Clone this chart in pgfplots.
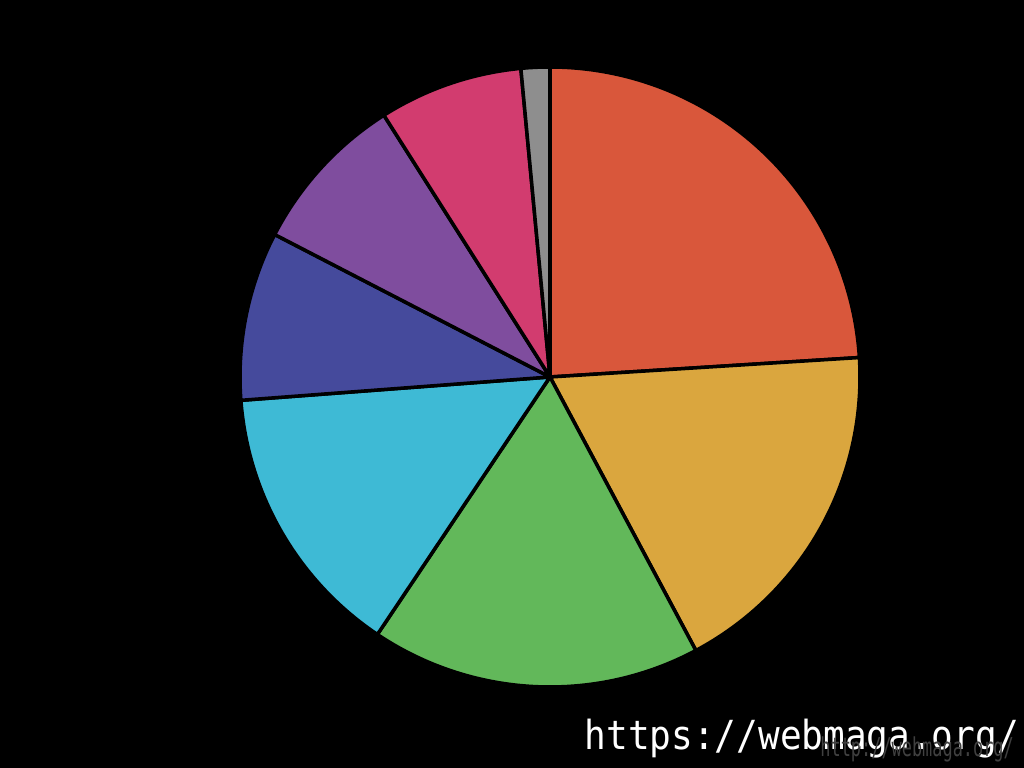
\documentclass[border=0pt]{standalone}
\usepackage{pgfplots}
\pgfplotsset{compat=1.18}
\usepackage{fontspec}
\newfontfamily\wmfont{DejaVu Sans Mono}
\definecolor{cOrange}{HTML}{D9573B}
\definecolor{cGold}{HTML}{DAA63E}
\definecolor{cGreen}{HTML}{62B85A}
\definecolor{cCyan}{HTML}{3EBAD5}
\definecolor{cBlue}{HTML}{454A9C}
\definecolor{cPurple}{HTML}{7F4D9E}
\definecolor{cPink}{HTML}{D23C6F}
\definecolor{cGray}{HTML}{8E8E8E}
% slice shares in percent (clockwise from 12 o'clock)
\def\pA{24.0}\def\pB{18.2}\def\pC{17.2}\def\pD{14.4}
\def\pE{8.8}\def\pF{8.4}\def\pG{7.5}\def\pH{1.5}
\pgfmathsetmacro\aA{90}
\pgfmathsetmacro\aB{\aA-3.6*\pA}
\pgfmathsetmacro\aC{\aB-3.6*\pB}
\pgfmathsetmacro\aD{\aC-3.6*\pC}
\pgfmathsetmacro\aE{\aD-3.6*\pD}
\pgfmathsetmacro\aF{\aE-3.6*\pE}
\pgfmathsetmacro\aG{\aF-3.6*\pF}
\pgfmathsetmacro\aH{\aG-3.6*\pG}
\pgfmathsetmacro\aI{\aH-3.6*\pH}
\def\cx{550}\def\cy{391}\def\R{310}
\begin{document}
\begin{tikzpicture}
\useasboundingbox (0,0) rectangle (10.24,7.68);
\fill[black] (0,0) rectangle (10.24,7.68);
\begin{axis}[at={(0,0)},anchor=south west,scale only axis,
  width=10.24cm,height=7.68cm,xmin=0,xmax=1024,ymin=0,ymax=768,
  hide axis,clip=false,
  every axis plot/.append style={draw=black,line width=1pt,samples=90,line join=round}]
\addplot[fill=cOrange,domain=\aB:\aA] ({\cx+\R*cos(x)},{\cy+\R*sin(x)}) -- (axis cs:\cx,\cy) -- cycle;
\addplot[fill=cGold,domain=\aC:\aB] ({\cx+\R*cos(x)},{\cy+\R*sin(x)}) -- (axis cs:\cx,\cy) -- cycle;
\addplot[fill=cGreen,domain=\aD:\aC] ({\cx+\R*cos(x)},{\cy+\R*sin(x)}) -- (axis cs:\cx,\cy) -- cycle;
\addplot[fill=cCyan,domain=\aE:\aD] ({\cx+\R*cos(x)},{\cy+\R*sin(x)}) -- (axis cs:\cx,\cy) -- cycle;
\addplot[fill=cBlue,domain=\aF:\aE] ({\cx+\R*cos(x)},{\cy+\R*sin(x)}) -- (axis cs:\cx,\cy) -- cycle;
\addplot[fill=cPurple,domain=\aG:\aF] ({\cx+\R*cos(x)},{\cy+\R*sin(x)}) -- (axis cs:\cx,\cy) -- cycle;
\addplot[fill=cPink,domain=\aH:\aG] ({\cx+\R*cos(x)},{\cy+\R*sin(x)}) -- (axis cs:\cx,\cy) -- cycle;
\addplot[fill=cGray,domain=\aI:\aH] ({\cx+\R*cos(x)},{\cy+\R*sin(x)}) -- (axis cs:\cx,\cy) -- cycle;
\node[anchor=base west,inner sep=0pt,text=white,font=\wmfont\fontsize{11.4pt}{12pt}\selectfont,xscale=0.9] at (axis cs:584,18) {https://webmaga.org/};
\node[anchor=base west,inner sep=0pt,text=black!75,font=\wmfont\fontsize{7.4pt}{8pt}\selectfont,xscale=0.65] at (axis cs:820,11) {http://webmaga.org/};
\end{axis}
\end{tikzpicture}
\end{document}
